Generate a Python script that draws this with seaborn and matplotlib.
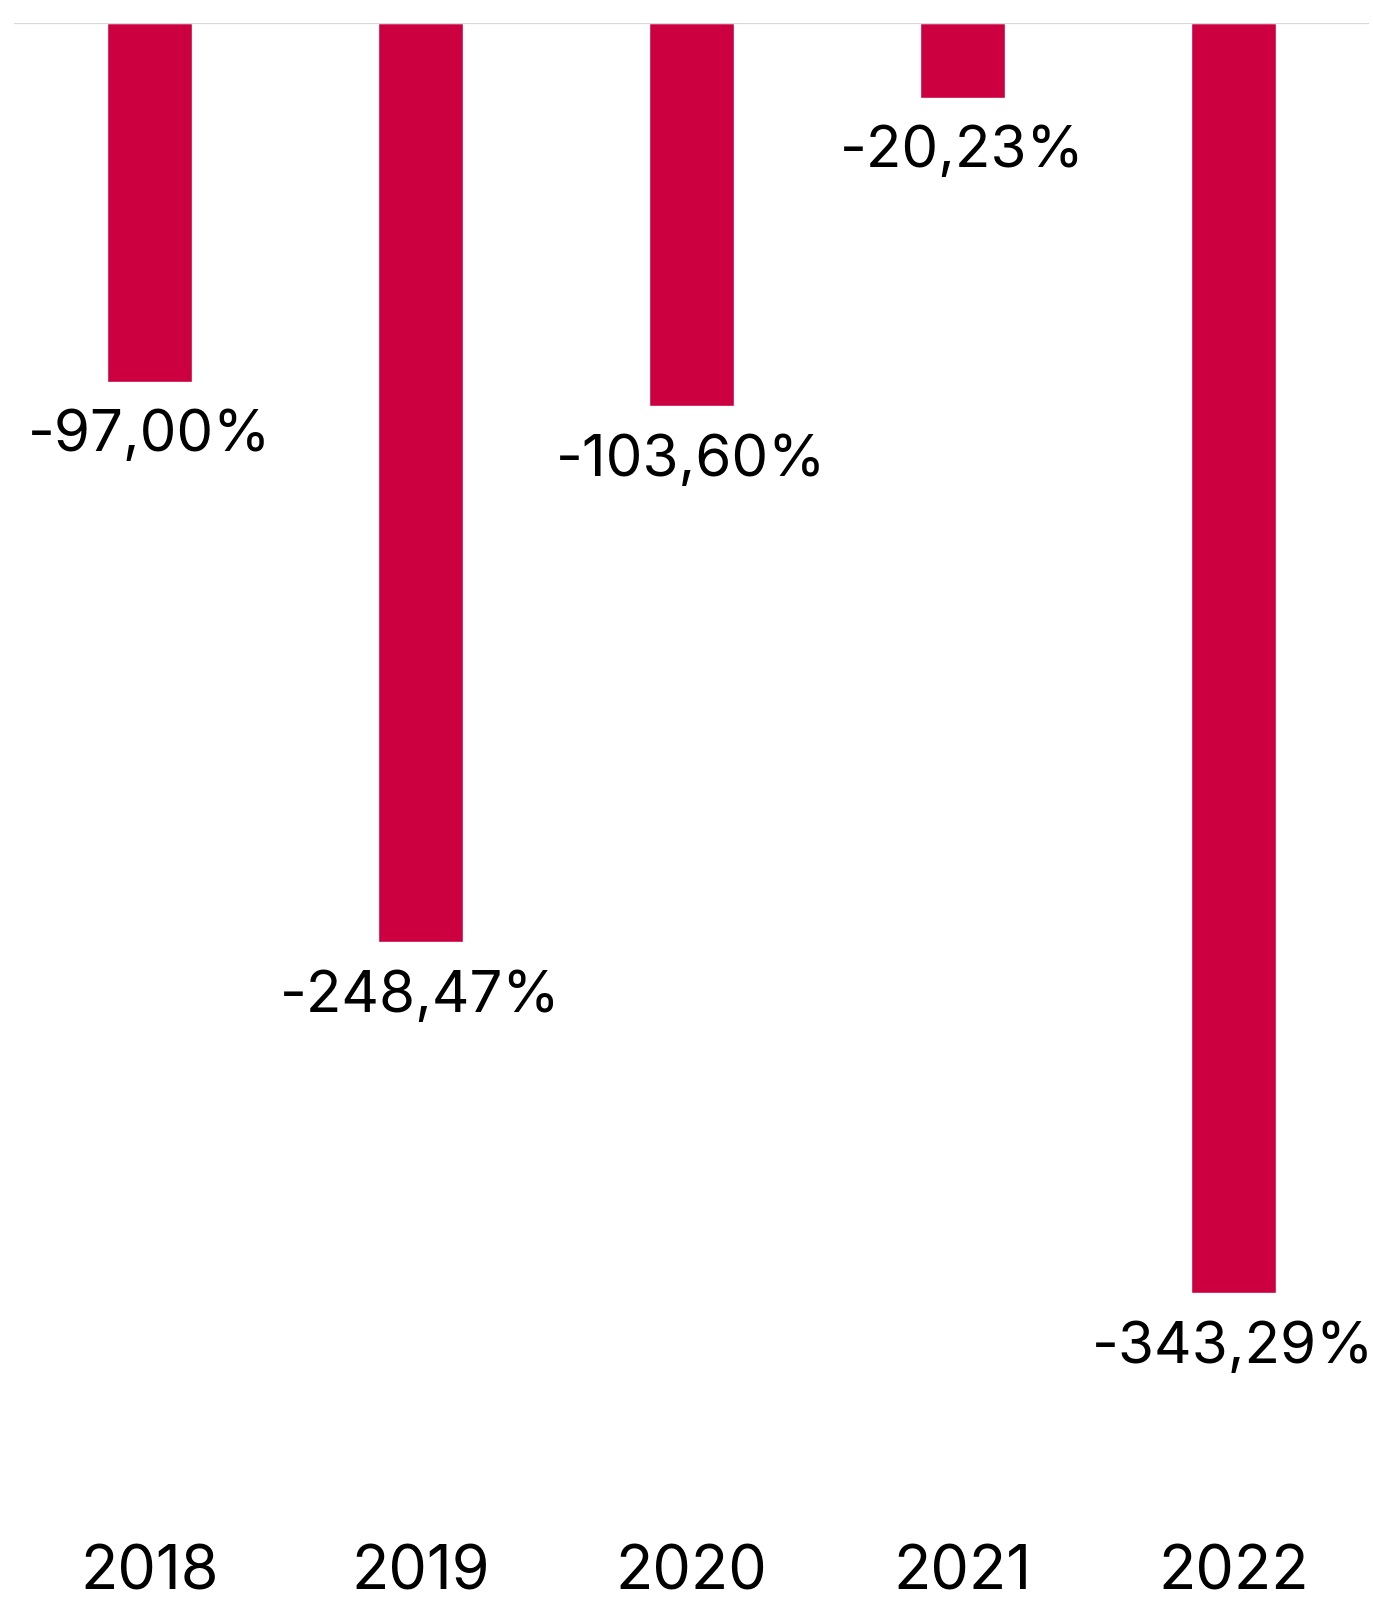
import matplotlib
matplotlib.use("Agg")
import matplotlib.pyplot as plt
import seaborn as sns
import pandas as pd

# dados do gráfico
anos = ["2018", "2019", "2020", "2021", "2022"]
valores = [-97.00, -248.47, -103.60, -20.23, -343.29]
rotulos = ["-97,00%", "-248,47%", "-103,60%", "-20,23%", "-343,29%"]

sns.set_theme(style="white")
plt.rcParams["font.family"] = ["Inter", "DejaVu Sans"]

df = pd.DataFrame({"ano": anos, "valor": valores})

W, H = 1373, 1606
fig = plt.figure(figsize=(W / 100, H / 100), dpi=100)
top_px, bottom_px = 24, 1542
ax = fig.add_axes([14 / W, 1 - bottom_px / H, (1369 - 14) / W, (bottom_px - top_px) / H])

sns.barplot(data=df, x="ano", y="valor", color="#CC0040", saturation=1,
            width=0.314, ax=ax, zorder=1)

ax.set_xlim(-0.5, 4.5)
ax.set_ylim(-(bottom_px - top_px) / 3.70, 0)
ax.axhline(0, color="#d9d9d9", lw=1.6, zorder=2)

# rótulos de valor abaixo de cada barra
for i, (v, txt) in enumerate(zip(valores, rotulos)):
    ax.annotate(txt, (i, v), xytext=(0, -19), textcoords="offset points",
                ha="center", va="top", fontsize=42, color="black")

sns.despine(ax=ax, left=True, bottom=True, top=True, right=True)
ax.set_xlabel("")
ax.set_ylabel("")
ax.set_yticks([])
ax.tick_params(axis="x", length=0, pad=2, labelsize=44, labelcolor="black")

fig.savefig("out.png", dpi=100)
